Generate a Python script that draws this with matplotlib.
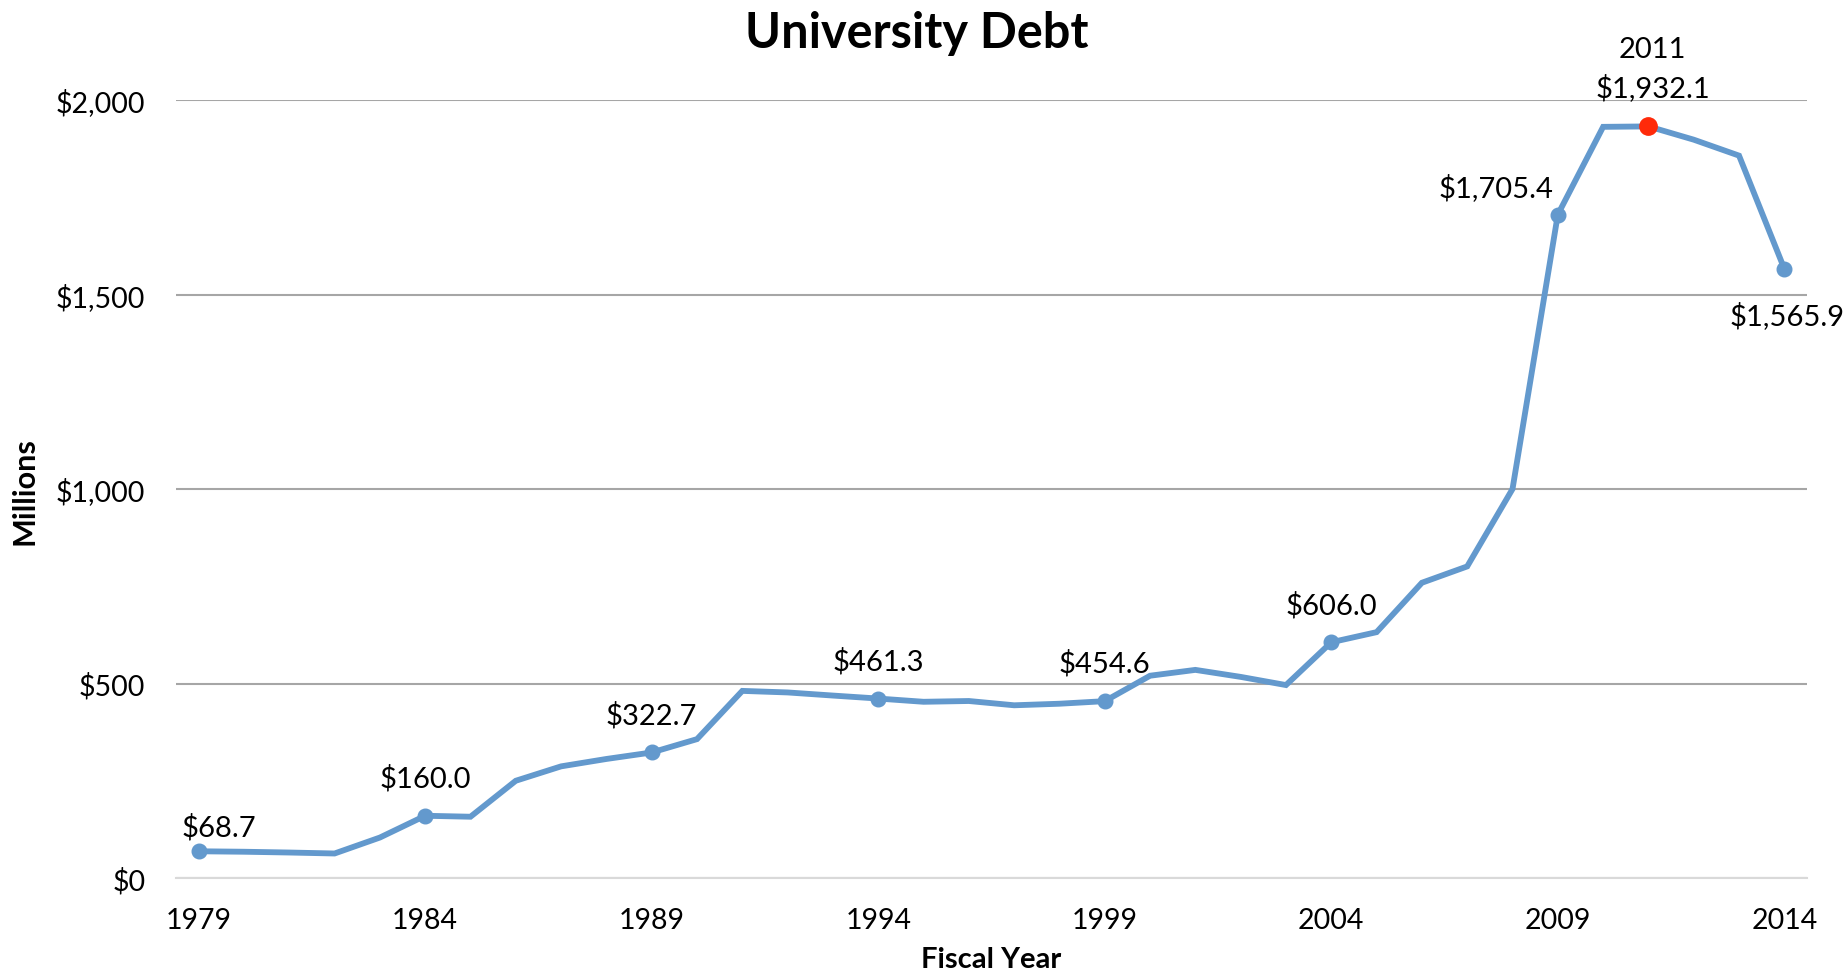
import numpy as np
import matplotlib
matplotlib.use("Agg")
import matplotlib.pyplot as plt
from matplotlib.ticker import FuncFormatter

plt.rcParams['font.family'] = ['Lato', 'DejaVu Sans']

# fiscal years and debt (millions of dollars)
years = list(range(1979, 2015))
debt = [68.7, 67.5, 65.5, 63.0, 104.0, 160.0, 157.5, 250.0, 287.0, 306.0,
        322.7, 357.0, 481.0, 477.0, 469.0, 461.3, 453.0, 455.0, 444.0, 448.0,
        454.6, 520.0, 535.0, 517.0, 496.0, 606.0, 632.0, 759.0, 801.0, 1000.0,
        1705.4, 1931.0, 1932.1, 1898.0, 1857.0, 1565.9]

labeled_years = [1979, 1984, 1989, 1994, 1999, 2004, 2009, 2014]
peak_year = 2011
xtick_years = [1979, 1984, 1989, 1994, 1999, 2004, 2009, 2014]
ytick_values = [0, 500, 1000, 1500, 2000]

line_color = '#6399CD'
W, H = 1845, 970

fig = plt.figure(figsize=(W / 100, H / 100), dpi=100)
ax = fig.add_axes([176 / W, 1 - 879 / H, (1807 - 176) / W, (879 - 101) / H])

ax.plot(years, debt, color=line_color, lw=4.2, solid_joinstyle='miter', zorder=3)

# markers on the labelled points
lab_vals = [debt[years.index(y)] for y in labeled_years]
ax.plot(labeled_years, lab_vals, 'o', color=line_color, ms=10.5, zorder=4, clip_on=False)
peak_val = debt[years.index(peak_year)]
ax.plot([peak_year], [peak_val], 'o', color='#FF2A0A', ms=12.5, zorder=5, clip_on=False)


def money(v):
    return '${:,.1f}'.format(v)


# label offsets in pixels (dx, dy, ha)
offsets = {1979: (20, 25, 'center'), 2009: (-4, 28, 'right'), 2014: (3, -46, 'center')}
for y, v in zip(labeled_years, lab_vals):
    dx, dy, ha = offsets.get(y, (0, 38, 'center'))
    ax.annotate(money(v), (y, v), xytext=(dx, dy), textcoords='offset pixels',
                ha=ha, va='center', fontsize=21, color='black', annotation_clip=False)
ax.annotate(money(peak_val), (peak_year, peak_val), xytext=(4, 39), textcoords='offset pixels',
            ha='center', va='center', fontsize=21, annotation_clip=False)
ax.annotate(str(peak_year), (peak_year, peak_val), xytext=(4, 77), textcoords='offset pixels',
            ha='center', va='center', fontsize=21, annotation_clip=False)

ax.set_xlim(1978.5, 2014.5)
ax.set_ylim(0, 2000)
ax.set_xticks(xtick_years)
ax.set_yticks(ytick_values)
ax.yaxis.set_major_formatter(FuncFormatter(lambda v, p: '${:,.0f}'.format(v)))
ax.tick_params(axis='both', length=0, labelsize=20.5)
ax.tick_params(axis='y', pad=22)
ax.tick_params(axis='x', pad=21)

ax.grid(axis='y', color='#A6A6A6', lw=1.5)
ax.set_axisbelow(True)
for s in ['top', 'right', 'left']:
    ax.spines[s].set_visible(False)
ax.spines['bottom'].set_color('#D9D9D9')
ax.spines['bottom'].set_linewidth(1.5)

fig.text(991 / W, 1 - 960 / H, 'Fiscal Year', ha='center', va='center',
         fontsize=21, fontweight='bold')
fig.text(25 / W, 1 - 491 / H, 'Millions', ha='center', va='center', rotation=90,
         fontsize=22, fontweight='bold')
fig.text(917 / W, 1 - 33 / H, 'University Debt', ha='center', va='center',
         fontsize=35, fontweight='bold')

fig.savefig('out.png', dpi=100)
